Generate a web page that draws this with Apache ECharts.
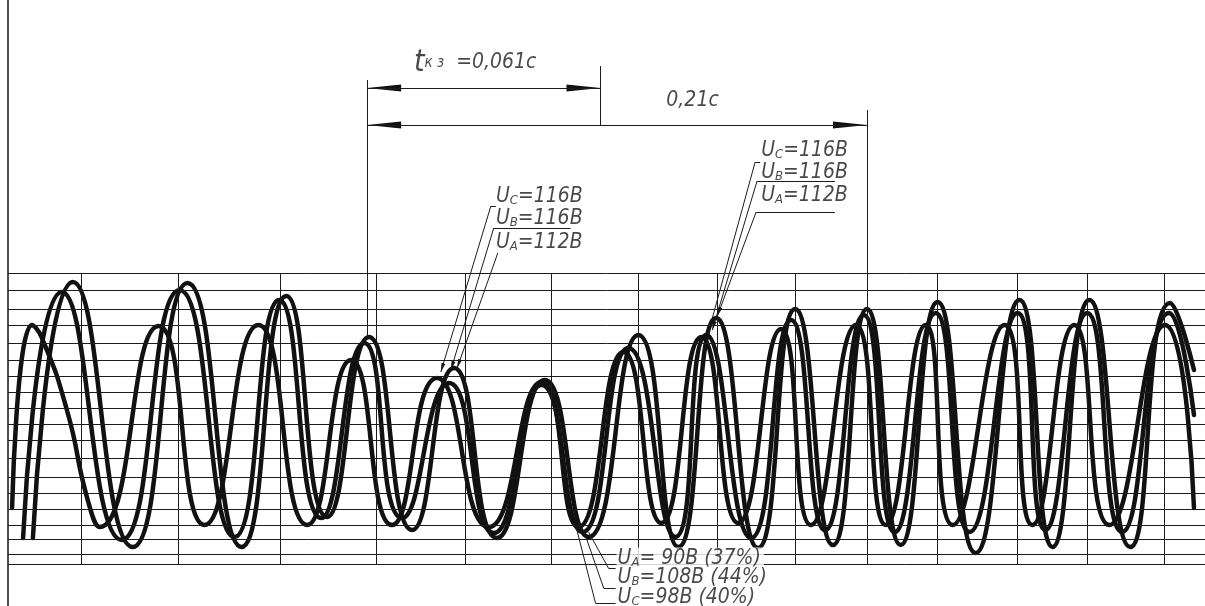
<!DOCTYPE html>
<html>
<head>
<meta charset="utf-8">
<script src="https://cdn.jsdelivr.net/npm/echarts@6/dist/echarts.min.js"></script>
<style>
html, body { margin: 0; padding: 0; background: #fff; }
#chart { width: 1205px; height: 606px; }
</style>
</head>
<body>
<div id="chart"></div>
<script>
// oscillogram of the three phase voltages, x = time (ms), y = instantaneous value (chart units)
var phaseA = [[1.7,-88],[10,95],[14,83],[24.6,10],[33.3,-80],[38.3,-107],[62.9,94],[82.1,-105],[104.6,95],[125,-105],
    [143.3,60],[160.4,-105],[179.2,42],[200.8,-107],[222.9,38],[238.3,-107],[257.1,68],[272.9,-103],[289.6,83],[305,-103],
    [322.9,91],[335.4,-105],[354.2,95],[366.7,-105],[383.3,95],[394.6,-105],[416.3,95],[427.9,-105],[445.4,95],[460,-105],
    [483.3,95],[495.4,-88]];
var phaseB = [[6.3,-118],[22.5,128],[47.5,-120],[71.7,130],[94.6,-117],[113.3,120],[130.8,-98],[148.8,77],[164.6,-98],
    [184.2,37],[202.9,-113],[222.9,35],[240,-112],[259.2,72],[278.8,-117],[291.7,85],[310.4,-118],[327.1,100],[341.3,-110],
    [357.5,105],[370.4,-112],[387.5,107],[401.7,-112],[421.7,107],[433.3,-110],[450.8,107],[465.4,-112],[485,107],[495.4,5]];
var phaseC = [[10.4,-118],[27.1,138],[52.1,-127],[75,137],[97.5,-127],[116.3,124],[133.3,-97],[150.8,83],[168.8,-110],
    [186.3,52],[204.2,-118],[224.2,40],[242.5,-117],[263.3,85],[280,-127],[295.8,102],[313.3,-128],[328.8,111],[344.6,-125],
    [358.8,111],[372.9,-125],[388.3,118],[404.2,-133],[422.5,120],[436.3,-127],[451.7,120],[468.8,-127],[485.4,117],[495.4,50]];

// chart paper lines
var hLines = [147,130,111,95,77,60,44,28,12,-4,-20,-38,-57,-73,-89,-105,-119,-134,-144];
var vLines = [30.4,71.3,113.8,153.8,190.8,227.1,263.3,296.3,328.8,358.8,388.3,421.7,450.8,482.9];

// texts
var dimTexts = ['0,061с', '0,21с'];
var peakPhases = ['C', 'B', 'A'];
var peakVolts1 = ['116', '116', '112'];
var peakVolts2 = ['116', '116', '112'];
var dipPhases = ['A', 'B', 'C'];
var dipVolts = [' 90', '108', '98'];
var dipPercents = ['37', '44', '40'];

var FONT = "'Liberation Sans Narrow','DejaVu Sans Condensed','DejaVu Sans',sans-serif";
var INK = '#111';

// annotation placement (data units)
var tkzStart = 150, tkzEnd = 247.5, totalEnd = 358.8;
var tkzLevel = 332, totalLevel = 295;
var gridTop = 147, gridBottom = -144;

function segs(points) {
    var out = [];
    for (var i = 0; i < points.length - 1; i++) {
        out.push([{coord: points[i]}, {coord: points[i + 1]}]);
    }
    return out;
}

var vGrid = vLines.map(function (t) {
    return [{coord: [t, gridTop]}, {coord: [t, gridBottom]}];
});
var hGrid = hLines.map(function (v) { return {yAxis: v}; });

var leaders = []
    // dimension lines
    .concat(segs([[tkzStart, 340], [tkzStart, 82]]))
    .concat(segs([[tkzEnd, 354], [tkzEnd, totalLevel]]))
    .concat(segs([[totalEnd, 310], [totalEnd, gridTop]]))
    .concat(segs([[tkzStart, tkzLevel], [tkzEnd, tkzLevel]]))
    .concat(segs([[tkzStart, totalLevel], [totalEnd, totalLevel]]))
    // first peak group
    .concat(segs([[180.8, 48], [201.7, 214], [203.8, 214]]))
    .concat(segs([[185, 50], [202.9, 192], [235, 192]]))
    .concat(segs([[187.6, 52], [204.6, 167]]))
    // second peak group
    .concat(segs([[292.5, 87], [312.1, 258], [314.2, 258]]))
    .concat(segs([[294.2, 90], [312.9, 239], [345.4, 239]]))
    .concat(segs([[296.3, 104], [312.5, 208], [345.4, 208]]))
    // dip group
    .concat(segs([[242.5, -112], [250.8, -148], [253.8, -148]]))
    .concat(segs([[240.4, -110], [248.8, -168], [253.8, -168]]))
    .concat(segs([[237.1, -105], [245.4, -183], [253.8, -183]]));

// arrowheads: tip t, tip v, toward t, toward v, length px, half width px
var arrowHeads = [
    [tkzStart, tkzLevel, tkzEnd, tkzLevel, 34, 3.5],
    [tkzEnd, tkzLevel, tkzStart, tkzLevel, 34, 3.5],
    [tkzStart, totalLevel, totalEnd, totalLevel, 34, 3.5],
    [totalEnd, totalLevel, tkzStart, totalLevel, 34, 3.5],
    [180.8, 48, 201.7, 214, 9, 2],
    [185, 50, 202.9, 192, 9, 2],
    [187.6, 52, 204.6, 167, 9, 2],
    [292.5, 87, 312.1, 258, 9, 2],
    [294.2, 90, 312.9, 239, 9, 2],
    [296.3, 104, 312.5, 208, 9, 2]
];

function renderArrow(params, api) {
    var tip = api.coord([api.value(0), api.value(1)]);
    var to = api.coord([api.value(2), api.value(3)]);
    var len = api.value(4), hw = api.value(5);
    var dx = to[0] - tip[0], dy = to[1] - tip[1];
    var d = Math.sqrt(dx * dx + dy * dy);
    dx /= d; dy /= d;
    var bx = tip[0] + dx * len, by = tip[1] + dy * len;
    return {
        type: 'polygon',
        shape: {points: [tip, [bx - dy * hw, by + dx * hw], [bx + dy * hw, by - dx * hw]]},
        style: {fill: INK}
    };
}

function uLabel(ph, v) {
    return 'U{s|' + ph + '}=' + v + 'В';
}

var notes = [
    {value: [169.6, 357], label: {formatter: '{t|t}{k|к з}  =' + dimTexts[0]}},
    {value: [275, 319], label: {formatter: dimTexts[1]}}
];
var g1v = [223, 201, 177], g2v = [269, 247, 224], g3v = [-139, -158, -178];
peakPhases.forEach(function (ph, i) {
    notes.push({value: [203.8, g1v[i]], label: {formatter: uLabel(ph, peakVolts1[i])}});
    notes.push({value: [314.6, g2v[i]], label: {formatter: uLabel(ph, peakVolts2[i])}});
});
dipPhases.forEach(function (ph, i) {
    notes.push({value: [254.2, g3v[i]], label: {
        formatter: uLabel(ph, dipVolts[i]) + ' (' + dipPercents[i] + '%)',
        backgroundColor: '#fff', padding: [1, 3, 1, 1]
    }});
});

var curveStyle = {color: INK, width: 4.5, cap: 'round', join: 'round'};
function curve(name, data) {
    return {
        name: name, type: 'line', data: data, smooth: 0.55, symbol: 'none',
        lineStyle: curveStyle, z: 3, silent: true
    };
}

var myChart = echarts.init(document.getElementById('chart'));
myChart.setOption({
    animation: false,
    backgroundColor: '#fff',
    grid: {left: 8, top: 0, width: 1200, height: 606},
    xAxis: {type: 'value', min: 0, max: 500, show: false},
    yAxis: {
        type: 'value', min: -186, max: 420,
        axisLine: {show: true, lineStyle: {color: INK, width: 1.5}},
        axisTick: {show: false}, axisLabel: {show: false}, splitLine: {show: false}
    },
    series: [
        {
            type: 'line', data: [], z: 1, silent: true,
            markLine: {
                silent: true, animation: false, symbol: 'none', label: {show: false},
                lineStyle: {color: '#1c1c1c', width: 1, type: 'solid'},
                emphasis: {disabled: true},
                data: hGrid.concat(vGrid).concat(leaders)
            }
        },
        curve('UA', phaseA),
        curve('UB', phaseB),
        curve('UC', phaseC),
        {
            type: 'custom', data: arrowHeads, renderItem: renderArrow, z: 4, silent: true,
            clip: false, encode: {x: 0, y: 1}
        },
        {
            type: 'scatter', data: notes, symbolSize: 0, z: 5, silent: true,
            label: {
                show: true, position: 'right', distance: 0,
                color: '#1a1a1a', fontFamily: FONT, fontStyle: 'italic', fontSize: 21,
                rich: {
                    s: {fontFamily: FONT, fontStyle: 'italic', fontSize: 13, color: '#1a1a1a', verticalAlign: 'bottom'},
                    t: {fontFamily: FONT, fontStyle: 'italic', fontSize: 30, color: '#1a1a1a'},
                    k: {fontFamily: FONT, fontStyle: 'italic', fontSize: 15, color: '#1a1a1a'}
                }
            }
        }
    ]
});
</script>
</body>
</html>
